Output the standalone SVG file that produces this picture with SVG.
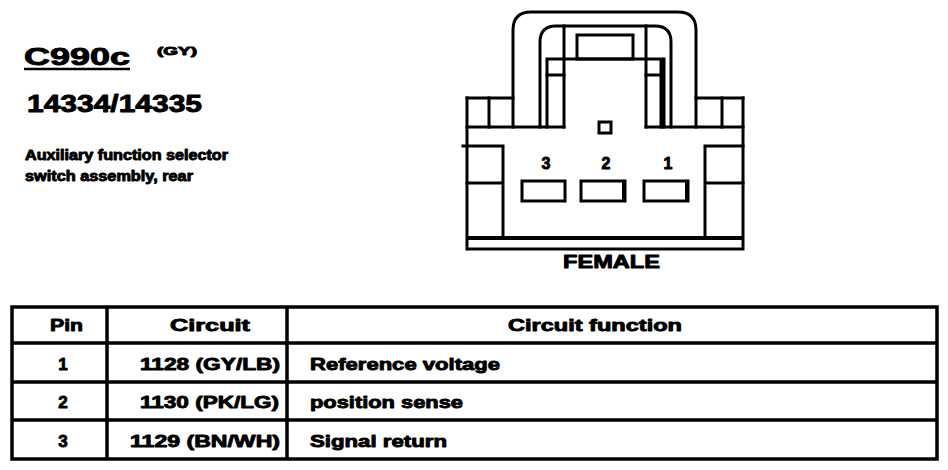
<svg xmlns="http://www.w3.org/2000/svg" width="948" height="470" viewBox="0 0 948 470">
<style>
.ln{stroke:#000;stroke-width:3;fill:none;stroke-linecap:square}
.tl{stroke:#000;stroke-width:3.5;fill:none}
.t{font-family:"Liberation Sans",Arial,Helvetica,sans-serif;font-weight:bold;fill:#000;stroke:#000;stroke-width:0.9;stroke-linejoin:round}
</style>
<rect width="948" height="470" fill="#fff"/>
<g id="title">
<text class="t" x="24" y="65" font-size="24" textLength="106" lengthAdjust="spacingAndGlyphs" stroke-width="1.2">C990c</text>
<line x1="24" y1="69" x2="130" y2="69" stroke="#000" stroke-width="2.5"/>
<text class="t" x="157" y="55" font-size="11" textLength="40" lengthAdjust="spacingAndGlyphs" stroke-width="0.3">(GY)</text>
<text class="t" x="27" y="112" font-size="24" textLength="175" lengthAdjust="spacingAndGlyphs" stroke-width="1.2">14334/14335</text>
<text class="t" x="25" y="160" font-size="14" textLength="203" lengthAdjust="spacingAndGlyphs" stroke-width="0.6">Auxiliary function selector</text>
<text class="t" x="25" y="181" font-size="14" textLength="168" lengthAdjust="spacingAndGlyphs" stroke-width="0.6">switch assembly, rear</text>
</g>
<g id="connector">
<path class="ln" d="M467,98 V249 H743 V98"/>
<path class="ln" d="M467,98 H513 M696,98 H743"/>
<line x1="467" y1="238" x2="743" y2="238" stroke="#000" stroke-width="4"/>
<path class="ln" d="M467,127 H564 M646,127 H743"/>
<path class="ln" d="M489,98 V127 M722,98 V127" stroke-width="4"/>
<path class="ln" d="M513,127 V30 Q513,12 531,12 H678 Q696,12 696,30 V127"/>
<path class="ln" d="M540,127 V42 Q540,26 556,26 H655 Q671,26 671,42 V127"/>
<path class="ln" d="M564,26 V127 M646,26 V127"/>
<path class="ln" d="M547,127 V59 H661 V127 M664,59 V127"/>
<path class="ln" d="M547,75 H564 M646,75 H661" stroke-width="2"/>
<rect class="ln" x="577" y="35" width="56" height="24" stroke-width="3.5"/>
<rect class="ln" x="599" y="122" width="12" height="11"/>
<path class="ln" d="M463,146 H503 V238 M467,183 H503"/>
<path class="ln" d="M743,146 H705 V238 M705,183 H743"/>
<rect class="ln" x="522" y="181" width="43" height="20"/>
<rect class="ln" x="581" y="181" width="44" height="20"/>
<line x1="624" y1="181" x2="624" y2="201" stroke="#000" stroke-width="4"/>
<rect class="ln" x="644" y="181" width="44" height="20"/>
<line x1="687" y1="181" x2="687" y2="201" stroke="#000" stroke-width="4"/>
<text class="t" x="546" y="169" font-size="16" text-anchor="middle">3</text>
<text class="t" x="606" y="169" font-size="16" text-anchor="middle">2</text>
<text class="t" x="668" y="169" font-size="16" text-anchor="middle">1</text>
<text class="t" x="563" y="268" font-size="18" textLength="97" lengthAdjust="spacingAndGlyphs" stroke-width="1.1">FEMALE</text>
</g>
<g id="table">
<rect class="tl" x="12" y="307" width="925" height="152"/>
<path class="tl" d="M12,343 H937 M12,382 H937 M12,420 H937 M107,307 V459 M287,307 V459"/>
<text class="t" x="50" y="331" font-size="17" textLength="33" lengthAdjust="spacingAndGlyphs">Pin</text>
<text class="t" x="170" y="331" font-size="17" textLength="80" lengthAdjust="spacingAndGlyphs">Circuit</text>
<text class="t" x="508" y="331" font-size="17" textLength="174" lengthAdjust="spacingAndGlyphs">Circuit function</text>
<text class="t" x="63" y="370" font-size="17" text-anchor="middle">1</text>
<text class="t" x="140" y="370" font-size="17" textLength="140" lengthAdjust="spacingAndGlyphs">1128 (GY/LB)</text>
<text class="t" x="310" y="370" font-size="17" textLength="190" lengthAdjust="spacingAndGlyphs">Reference voltage</text>
<text class="t" x="63" y="408" font-size="17" text-anchor="middle">2</text>
<text class="t" x="140" y="408" font-size="17" textLength="139" lengthAdjust="spacingAndGlyphs">1130 (PK/LG)</text>
<text class="t" x="310" y="408" font-size="17" textLength="153" lengthAdjust="spacingAndGlyphs">position sense</text>
<text class="t" x="63" y="447" font-size="17" text-anchor="middle">3</text>
<text class="t" x="130" y="447" font-size="17" textLength="150" lengthAdjust="spacingAndGlyphs">1129 (BN/WH)</text>
<text class="t" x="310" y="447" font-size="17" textLength="137" lengthAdjust="spacingAndGlyphs">Signal return</text>
</g>
</svg>
